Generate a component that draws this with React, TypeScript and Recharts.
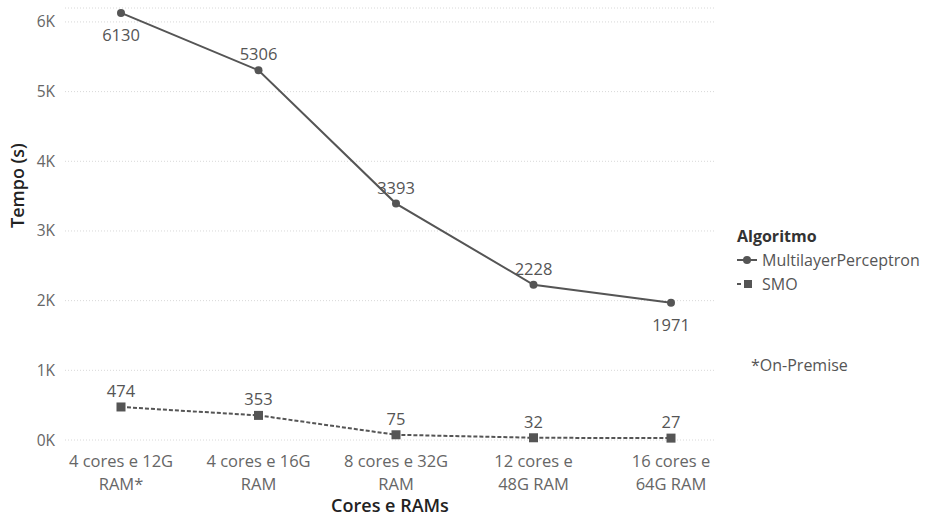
import React from "react";
import { LineChart, Line, XAxis, YAxis, CartesianGrid, LabelList } from "recharts";

// Configurations tested (two-line tick labels)
const configLines: string[][] = [
  ["4 cores e 12G", "RAM*"],
  ["4 cores e 16G", "RAM"],
  ["8 cores e 32G", "RAM"],
  ["12 cores e", "48G RAM"],
  ["16 cores e", "64G RAM"],
];
const configs = ["4c12g", "4c16g", "8c32g", "12c48g", "16c64g"];

// Training time in seconds per algorithm
const mlpTimes = [6130, 5306, 3393, 2228, 1971];
const smoTimes = [474, 353, 75, 32, 27];

const yTicks = [0, 1000, 2000, 3000, 4000, 5000, 6000];

// MLP value labels drawn under the point instead of above it
const mlpBelow = new Set([0, 4]);

const data = configs.map((c, i) => ({
  config: c,
  mlp: mlpTimes[i],
  smo: smoTimes[i],
}));

const FONT = "'Open Sans', 'Noto Sans', sans-serif";

const CategoryTick = (props: any) => {
  const { x, y, index } = props;
  const lines = configLines[index] || [];
  return (
    <g>
      {lines.map((l, i) => (
        <text
          key={i}
          x={x}
          y={y + 19 + i * 23}
          textAnchor="middle"
          fontSize={16.5}
          fontFamily={FONT}
          fill="#666"
        >
          {l}
        </text>
      ))}
    </g>
  );
};

const makeLabel = (below: (i: number) => boolean) => (props: any) => {
  const { x, y, value, index } = props;
  const b = below(index);
  return (
    <text
      x={x}
      y={b ? y + 28 : y - 10}
      textAnchor="middle"
      fontSize={16.5}
      fontFamily={FONT}
      fill="#555"
    >
      {value}
    </text>
  );
};

const SquareDot = (props: any) => {
  const { cx, cy } = props;
  return <rect x={cx - 4.5} y={cy - 4.5} width={9} height={9} fill="#555" />;
};

const LegendBox = () => (
  <div
    style={{
      position: "absolute",
      left: 737,
      top: 224,
      fontFamily: FONT,
      color: "#555",
      fontSize: 16,
      lineHeight: "24px",
    }}
  >
    <div style={{ fontWeight: 700, color: "#333" }}>Algoritmo</div>
    <div style={{ display: "flex", alignItems: "center" }}>
      <svg width={20} height={12} style={{ marginRight: 5 }}>
        <line x1={0} y1={6} x2={20} y2={6} stroke="#555" strokeWidth={2} />
        <circle cx={10} cy={6} r={4} fill="#555" />
      </svg>
      MultilayerPerceptron
    </div>
    <div style={{ display: "flex", alignItems: "center" }}>
      <svg width={20} height={12} style={{ marginRight: 5 }}>
        <line x1={0} y1={6} x2={4} y2={6} stroke="#555" strokeWidth={2} />
        <rect x={7} y={2} width={8} height={8} fill="#555" />
      </svg>
      SMO
    </div>
    <div style={{ marginTop: 57, marginLeft: 14 }}>*On-Premise</div>
  </div>
);

export default function App() {
  return (
    <div style={{ position: "absolute", left: 0, top: 0, width: 925, height: 516, background: "#fff" }}>
      <LineChart
        width={925}
        height={516}
        data={data}
        margin={{ top: 8, right: 210, bottom: 0, left: 0 }}
      >
        <CartesianGrid
          vertical={false}
          stroke="#d8d8d8"
          strokeDasharray="1 2"
        />
        <XAxis
          dataKey="config"
          axisLine={false}
          tickLine={false}
          padding={{ left: 56, right: 44 }}
          tick={<CategoryTick />}
          interval={0}
          height={76}
          label={{
            value: "Cores e RAMs",
            position: "insideBottom",
            offset: 0,
            dy: -4,
            fill: "#222",
            fontSize: 18,
            fontWeight: 600,
            fontFamily: FONT,
          }}
        />
        <YAxis
          width={65}
          domain={[0, 6200]}
          ticks={yTicks}
          axisLine={false}
          tickLine={false}
          tickFormatter={(v: number) => `${v / 1000}K`}
          tick={{ fill: "#666", fontSize: 15.5, fontFamily: FONT }}
          tickMargin={4}
          label={{
            value: "Tempo (s)",
            angle: -90,
            position: "insideLeft",
            offset: 18,
            dy: 4,
            fill: "#222",
            fontSize: 18,
            fontWeight: 600,
            fontFamily: FONT,
          }}
        />
        <Line
          type="linear"
          dataKey="mlp"
          name="MultilayerPerceptron"
          stroke="#555"
          strokeWidth={2}
          dot={{ r: 4, fill: "#555", stroke: "#555", strokeWidth: 0 }}
          isAnimationActive={false}
        >
          <LabelList dataKey="mlp" content={makeLabel((i) => mlpBelow.has(i))} />
        </Line>
        <Line
          type="linear"
          dataKey="smo"
          name="SMO"
          stroke="#555"
          strokeWidth={2}
          strokeDasharray="4 2"
          dot={<SquareDot />}
          isAnimationActive={false}
        >
          <LabelList dataKey="smo" content={makeLabel(() => false)} />
        </Line>
      </LineChart>
      <LegendBox />
    </div>
  );
}
